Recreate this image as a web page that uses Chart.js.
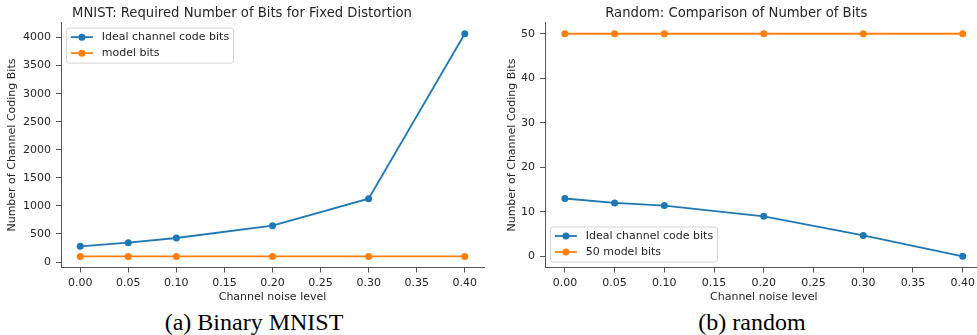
<!DOCTYPE html>
<html>
<head>
<meta charset="utf-8">
<script src="https://cdn.jsdelivr.net/npm/chart.js@4.4.1/dist/chart.umd.min.js"></script>
<style>
  html, body { margin: 0; padding: 0; background: #fff; width: 977px; height: 335px; overflow: hidden; position: relative; }
  .panel { position: absolute; top: 0; }
  .cap { position: absolute; font-family: 'Liberation Serif', 'Times New Roman', serif; font-size: 24px; line-height: 24px; color: #000; white-space: pre; transform: translateX(-50%); top: 310px; }
</style>
</head>
<body>
<div class="panel" style="left:0px;width:490px;height:305px;"><canvas id="c1" width="490" height="305"></canvas></div>
<div class="panel" style="left:490px;width:500px;height:305px;"><canvas id="c2" width="500" height="305"></canvas></div>
<div class="cap" style="left:254px;">(a) Binary MNIST</div>
<div class="cap" style="left:752px;">(b) random</div>
<script>
// ---- data ----
const noiseLevels = [0.00, 0.05, 0.10, 0.20, 0.30, 0.40];
const mnistIdealBits = [280, 344, 428, 647, 1128, 4068];
const mnistModelBits = [100, 100, 100, 100, 100, 100];
const randomIdealBits = [13.0, 12.0, 11.4, 9.0, 4.7, 0.0];
const randomModelBits = [50, 50, 50, 50, 50, 50];
const xTickValues = [0.00, 0.05, 0.10, 0.15, 0.20, 0.25, 0.30, 0.35, 0.40];
const mnistYTicks = [0, 500, 1000, 1500, 2000, 2500, 3000, 3500, 4000];
const randomYTicks = [0, 10, 20, 30, 40, 50];
const mnistLabels = ['Ideal channel code bits', 'model bits'];
const randomLabels = ['Ideal channel code bits', '50 model bits'];
const titles = ['MNIST: Required Number of Bits for Fixed Distortion', 'Random: Comparison of Number of Bits'];

const BLUE = '#1f77b4', ORANGE = '#ff7f0e';
const TEXT = '#262626', SPINE = '#555555';

Chart.defaults.font.family = "'DejaVu Sans', sans-serif";
Chart.defaults.font.size = 11;
Chart.defaults.color = TEXT;

const insideLegend = {
  id: 'insideLegend',
  afterDatasetsDraw(chart, args, opts) {
    const ctx = chart.ctx, ca = chart.chartArea;
    const fs = 11;
    ctx.save();
    ctx.font = fs + "px 'DejaVu Sans', sans-serif";
    const ds = chart.data.datasets;
    let tw = 0;
    ds.forEach(d => { tw = Math.max(tw, ctx.measureText(d.label).width); });
    const pad = 0.4 * fs, handle = 2 * fs, tpad = 0.8 * fs, rowH = 16;
    const w = pad + handle + tpad + tw + pad;
    const h = 35;
    const x = ca.left + 0.5 * fs;
    const y = opts.loc === 'upper left' ? ca.top + 0.5 * fs : ca.bottom - 0.5 * fs - h;
    const r = 2.5;
    ctx.beginPath();
    ctx.moveTo(x + r, y);
    ctx.arcTo(x + w, y, x + w, y + h, r);
    ctx.arcTo(x + w, y + h, x, y + h, r);
    ctx.arcTo(x, y + h, x, y, r);
    ctx.arcTo(x, y, x + w, y, r);
    ctx.closePath();
    ctx.fillStyle = 'rgba(255,255,255,0.8)';
    ctx.fill();
    ctx.strokeStyle = 'rgba(204,204,204,0.8)';
    ctx.lineWidth = 1;
    ctx.stroke();
    ds.forEach((d, i) => {
      const cy = y + 9 + i * rowH;
      const lx = x + pad;
      ctx.strokeStyle = d.borderColor;
      ctx.lineWidth = 1.8;
      ctx.beginPath();
      ctx.moveTo(lx, cy);
      ctx.lineTo(lx + handle, cy);
      ctx.stroke();
      ctx.fillStyle = d.borderColor;
      ctx.beginPath();
      ctx.arc(lx + handle / 2, cy, 3.5, 0, Math.PI * 2);
      ctx.fill();
      ctx.fillStyle = TEXT;
      ctx.textBaseline = 'middle';
      ctx.textAlign = 'left';
      ctx.fillText(d.label, lx + handle + tpad, cy + 0.5);
    });
    ctx.restore();
  }
};

function ds(label, data, color, order) {
  return {
    label, data: noiseLevels.map((x, i) => ({ x, y: data[i] })),
    borderColor: color, backgroundColor: color,
    pointBackgroundColor: color, pointBorderWidth: 0, pointRadius: 3.5,
    borderWidth: 1.8, tension: 0, order, clip: false
  };
}

function makeChart(id, opt) {
  return new Chart(document.getElementById(id), {
    type: 'line',
    data: { datasets: [ds(opt.labels[0], opt.ideal, BLUE, 1), ds(opt.labels[1], opt.model, ORANGE, 0)] },
    plugins: [insideLegend],
    options: {
      responsive: false, animation: false, devicePixelRatio: 1,
      layout: { padding: { left: 0, right: opt.padRight, top: 0, bottom: 0 } },
      plugins: {
        legend: { display: false }, tooltip: { enabled: false },
        title: { display: true, text: opt.title, color: TEXT, font: { size: 13.2, weight: 'normal' }, padding: { top: 6, bottom: 0.8 } },
        insideLegend: { loc: opt.legendLoc }
      },
      scales: {
        x: {
          type: 'linear', min: -0.02, max: 0.42,
          afterBuildTicks: s => { s.ticks = xTickValues.map(v => ({ value: v })); },
          afterFit: s => { s.height = 37.5; },
          ticks: { callback: v => v.toFixed(2), padding: 4, maxRotation: 0, autoSkip: false, color: TEXT },
          grid: { display: true, drawOnChartArea: false, drawTicks: true, tickLength: 5, color: SPINE },
          border: { display: true, color: SPINE, width: 1 },
          title: { display: true, text: 'Channel noise level', color: TEXT, font: { size: 11 }, padding: { top: 0, bottom: 1 } }
        },
        y: {
          type: 'linear', min: opt.ymin, max: opt.ymax,
          afterBuildTicks: s => { s.ticks = opt.yticks.map(v => ({ value: v })); },
          afterFit: s => { s.width = opt.yWidth; },
          ticks: { callback: v => String(v), padding: 5, autoSkip: false, color: TEXT },
          grid: { display: true, drawOnChartArea: false, drawTicks: true, tickLength: 5, color: SPINE },
          border: { display: true, color: SPINE, width: 1 },
          title: { display: true, text: 'Number of Channel Coding Bits', color: TEXT, font: { size: 11 }, padding: { top: opt.yTitlePad, bottom: 0 } }
        }
      }
    }
  });
}

makeChart('c1', { labels: mnistLabels, ideal: mnistIdealBits, model: mnistModelBits, title: titles[0],
  ymin: -98, ymax: 4266, yticks: mnistYTicks, yWidth: 61, padRight: 6, yTitlePad: 5.7, legendLoc: 'upper left' });
makeChart('c2', { labels: randomLabels, ideal: randomIdealBits, model: randomModelBits, title: titles[1],
  ymin: -2.5, ymax: 52.5, yticks: randomYTicks, yWidth: 55, padRight: 7.4, yTitlePad: 15.1, legendLoc: 'lower left' });
</script>
</body>
</html>
